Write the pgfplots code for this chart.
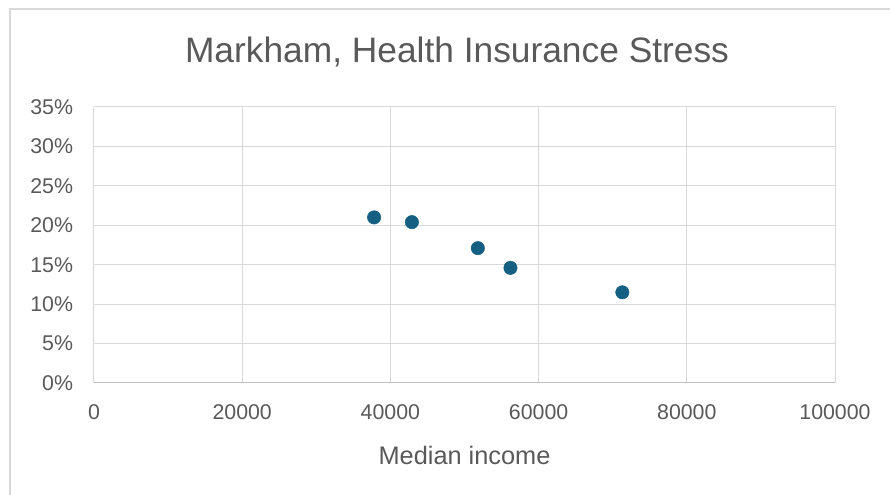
\documentclass[border=0pt]{standalone}
\usepackage{pgfplots}
\pgfplotsset{compat=1.18}
\usepackage{fontspec}
\setmainfont{Liberation Sans}
\definecolor{txt}{HTML}{595959}
\definecolor{gridc}{HTML}{D9D9D9}
\definecolor{axcol}{HTML}{BFBFBF}
\definecolor{dot}{HTML}{156082}
\begin{document}
\begin{tikzpicture}[x=0.75pt,y=0.75pt]
\useasboundingbox (0,0) rectangle (890,495);
% chart area border (runs off the right and bottom edges)
\begin{scope}
  \clip (0,0) rectangle (890,495);
  \draw[gridc, line width=0.9pt] (10,-20) -- (10,486) -- (920,486);
\end{scope}
\node[txt, font=\fontsize{26.5}{30}\selectfont] at (457,443) {Markham, Health Insurance Stress};
\begin{axis}[
  at={(70.5pt,84pt)}, anchor=south west,
  scale only axis, width=555.75pt, height=207pt,
  xmin=0, xmax=100000, ymin=0, ymax=35,
  xtick={0,20000,...,100000}, ytick={0,5,...,35},
  scaled x ticks=false,
  xticklabel style={/pgf/number format/fixed, /pgf/number format/1000 sep={},
    anchor=center, yshift=-22pt, inner sep=0pt},
  yticklabel={\pgfmathprintnumber{\tick}\%},
  yticklabel style={anchor=east, inner sep=0pt, xshift=-15.5pt},
  /pgf/number format/assume math mode=true,
  ticklabel style={font=\fontsize{16}{19}\selectfont, text=txt},
  tick style={draw=none},
  axis line style={draw=none},
  grid=major, major grid style={draw=gridc, line width=0.75pt},
  xlabel={Median income},
  xlabel style={at={(axis description cs:0.5,0)}, anchor=center, yshift=-54pt,
    font=\fontsize{19}{22}\selectfont, text=txt},
  clip=false,
]
\draw[axcol, line width=0.75pt] (axis cs:0,0) -- (axis cs:100000,0);
\addplot[only marks, mark=*, mark size=5pt, mark options={fill=dot, draw=dot}]
  coordinates {
    (37800,21.0)
    (42900,20.4)
    (51800,17.1)
    (56200,14.6)
    (71300,11.5)
  };
\end{axis}
\end{tikzpicture}
\end{document}
